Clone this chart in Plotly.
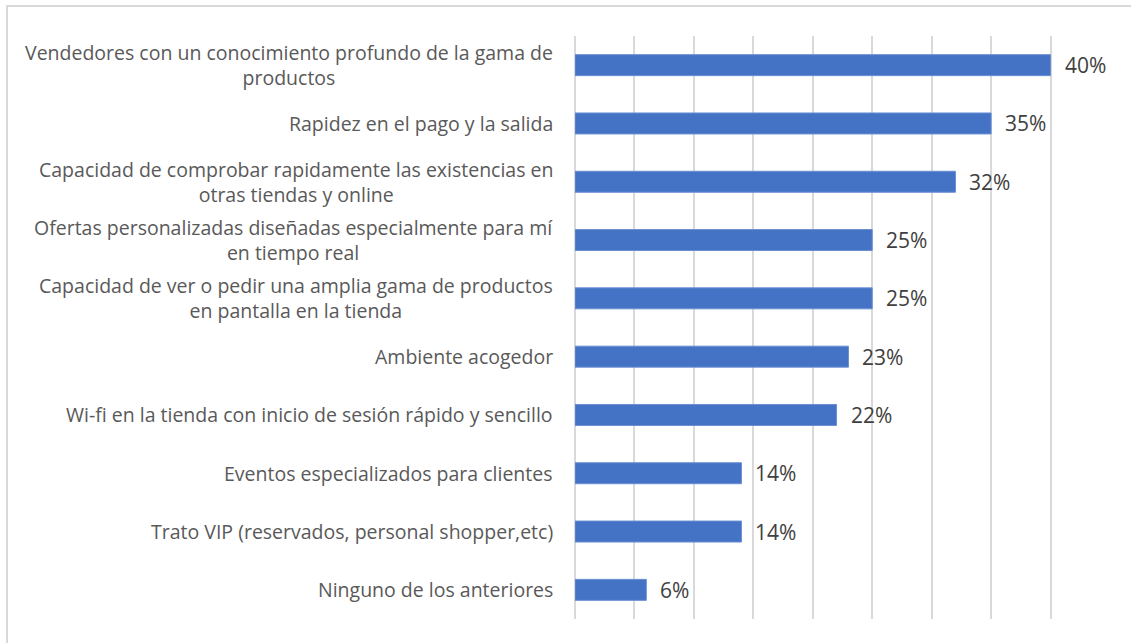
import plotly.graph_objects as go

# Survey answers (top to bottom) and share of respondents
categorias = [
    "Vendedores con un conocimiento profundo de la gama de<br>productos",
    "Rapidez en el pago y la salida",
    "Capacidad de comprobar rapidamente las existencias en<br>otras tiendas y online",
    "Ofertas personalizadas diseñadas especialmente para mí<br>en tiempo real",
    "Capacidad de ver o pedir una amplia gama de productos<br>en pantalla en la tienda",
    "Ambiente acogedor",
    "Wi-fi en la tienda con inicio de sesión rápido y sencillo",
    "Eventos especializados para clientes",
    "Trato VIP (reservados, personal shopper,etc)",
    "Ninguno de los anteriores",
]
valores = [0.40, 0.35, 0.32, 0.25, 0.25, 0.23, 0.22, 0.14, 0.14, 0.06]

FONT = "Open Sans"
LABEL_COLOR = "#595959"
VALUE_COLOR = "#404040"
BAR_COLOR = "#4472C4"
GRID_COLOR = "#D9D9D9"

fig = go.Figure(
    go.Bar(
        x=valores,
        y=categorias,
        orientation="h",
        marker=dict(color=BAR_COLOR, line=dict(color="#6A8FD3", width=1)),
        hoverinfo="skip",
    )
)

annotations = []
for cat, val in zip(categorias, valores):
    # category label, centred lines, left of the axis
    annotations.append(dict(
        x=0, xref="paper", y=cat, yref="y",
        text=cat, showarrow=False,
        xanchor="right", yanchor="middle", align="center",
        xshift=-20,
        font=dict(family=FONT, size=19.5, color=LABEL_COLOR),
    ))
    # value label after the bar end
    annotations.append(dict(
        x=val, xref="x", y=cat, yref="y",
        text=f"{round(val * 100)}%", showarrow=False,
        xanchor="left", yanchor="middle",
        xshift=12,
        font=dict(family=FONT, size=21, color=VALUE_COLOR),
    ))

fig.update_layout(
    width=1131,
    height=643,
    margin=dict(l=575, r=21, t=36, b=24),
    paper_bgcolor="white",
    plot_bgcolor="white",
    showlegend=False,
    bargap=0.64,
    annotations=annotations,
    xaxis=dict(
        range=[0, 0.45],
        dtick=0.05,
        showgrid=True,
        gridcolor=GRID_COLOR,
        gridwidth=2,
        zeroline=True,
        zerolinecolor=GRID_COLOR,
        zerolinewidth=2,
        showticklabels=False,
        showline=False,
        fixedrange=True,
    ),
    yaxis=dict(
        categoryorder="array",
        categoryarray=categorias[::-1],
        showticklabels=False,
        showgrid=False,
        showline=False,
        fixedrange=True,
    ),
    shapes=[
        # outer chart frame (runs off the right and bottom edges)
        dict(
            type="rect", xref="paper", yref="paper",
            x0=-568 / 535, x1=1.2, y0=-0.2, y1=1 + 30 / 583,
            line=dict(color="#D9D9D9", width=2),
            fillcolor="rgba(0,0,0,0)", layer="below",
        )
    ],
    font=dict(family=FONT),
)

fig.write_html("out.html")
